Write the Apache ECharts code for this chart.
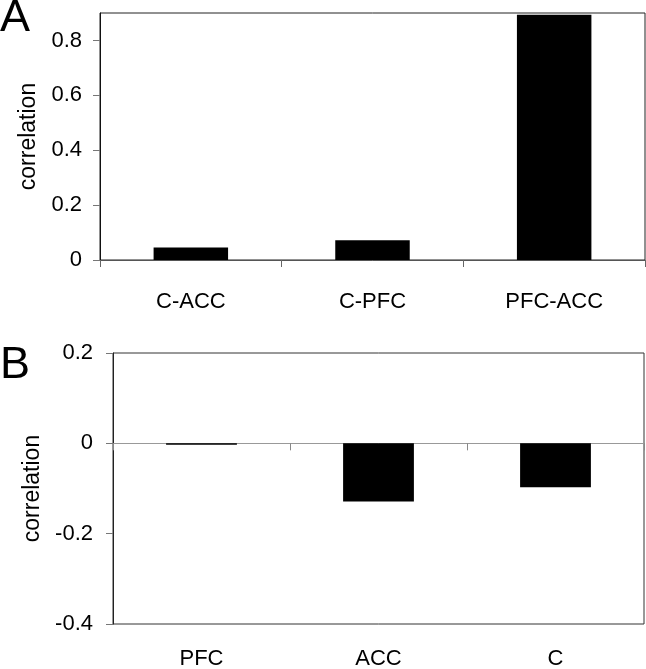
<!DOCTYPE html>
<html>
<head>
<meta charset="utf-8">
<script src="https://cdn.jsdelivr.net/npm/echarts@6/dist/echarts.min.js"></script>
<style>html,body{margin:0;padding:0;background:#fff}#c{width:646px;height:669px}</style>
</head>
<body>
<div id="c"></div>
<script>
const catsA = ['C-ACC', 'C-PFC', 'PFC-ACC'];
const valsA = [0.046, 0.072, 0.894];
const ticksA = [0, 0.2, 0.4, 0.6, 0.8];
const catsB = ['PFC', 'ACC', 'C'];
const valsB = [-0.003, -0.129, -0.097];
const ticksB = [-0.4, -0.2, 0, 0.2];

const FONT = 'Liberation Sans, Arial, sans-serif';
const chart = echarts.init(document.getElementById('c'), null, {renderer: 'canvas'});
chart.setOption({
  animation: false,
  backgroundColor: '#fff',
  textStyle: {fontFamily: FONT},
  graphic: [
    {type: 'text', left: 0, top: -4, style: {text: 'A', font: '45px ' + FONT, fill: '#000'}},
    {type: 'text', left: 0, top: 343, style: {text: 'B', font: '45px ' + FONT, fill: '#000'}}
  ],
  grid: [
    {left: 100, top: 13, width: 545, height: 247, show: true, borderColor: '#222', borderWidth: 1,
     backgroundColor: 'transparent', outerBoundsMode: 'none', containLabel: false},
    {left: 113, top: 353, width: 531, height: 271, show: true, borderColor: '#333', borderWidth: 1,
     backgroundColor: 'transparent', outerBoundsMode: 'none', containLabel: false}
  ],
  xAxis: [
    {gridIndex: 0, type: 'category', data: catsA, position: 'bottom',
     axisLine: {show: true, lineStyle: {color: '#555', width: 1}},
     axisTick: {show: true, length: 7, lineStyle: {color: '#666'}},
     axisLabel: {show: true, margin: 31, fontSize: 22, color: '#000', fontFamily: FONT},
     splitLine: {show: false}},
    {gridIndex: 1, type: 'category', data: catsB, position: 'bottom',
     axisLine: {show: true, onZero: true, lineStyle: {color: '#999', width: 1}},
     axisTick: {show: true, length: 7, lineStyle: {color: '#888'}},
     axisLabel: {show: false},
     splitLine: {show: false}},
    {gridIndex: 1, type: 'category', data: catsB, position: 'bottom',
     axisLine: {show: false, onZero: false},
     axisTick: {show: false},
     axisLabel: {show: true, margin: 24, fontSize: 22, color: '#000', fontFamily: FONT},
     splitLine: {show: false}}
  ],
  yAxis: [
    {gridIndex: 0, type: 'value', min: 0, max: 0.9, interval: 0.2,
     name: 'correlation', nameLocation: 'middle', nameGap: 56, nameRotate: 90,
     nameTextStyle: {fontSize: 23, color: '#000', fontFamily: FONT},
     axisLine: {show: true, lineStyle: {color: '#111', width: 1}},
     axisTick: {show: true, length: 7, lineStyle: {color: '#777'}, customValues: ticksA},
     axisLabel: {show: true, margin: 18, fontSize: 22, color: '#000', fontFamily: FONT, customValues: ticksA},
     splitLine: {show: false}},
    {gridIndex: 1, type: 'value', min: -0.4, max: 0.2, interval: 0.2,
     name: 'correlation', nameLocation: 'middle', nameGap: 68, nameRotate: 90,
     nameTextStyle: {fontSize: 23, color: '#000', fontFamily: FONT},
     axisLine: {show: true, onZero: false, lineStyle: {color: '#222', width: 1}},
     axisTick: {show: true, length: 7, lineStyle: {color: '#777'}, customValues: ticksB},
     axisLabel: {show: true, margin: 20, fontSize: 22, color: '#000', fontFamily: FONT, customValues: ticksB},
     splitLine: {show: false}}
  ],
  series: [
    {type: 'bar', xAxisIndex: 0, yAxisIndex: 0, data: valsA, barWidth: '41%', itemStyle: {color: '#000'}},
    {type: 'bar', xAxisIndex: 1, yAxisIndex: 1, data: valsB, barWidth: '40%', itemStyle: {color: '#000'}}
  ]
});
</script>
</body>
</html>
